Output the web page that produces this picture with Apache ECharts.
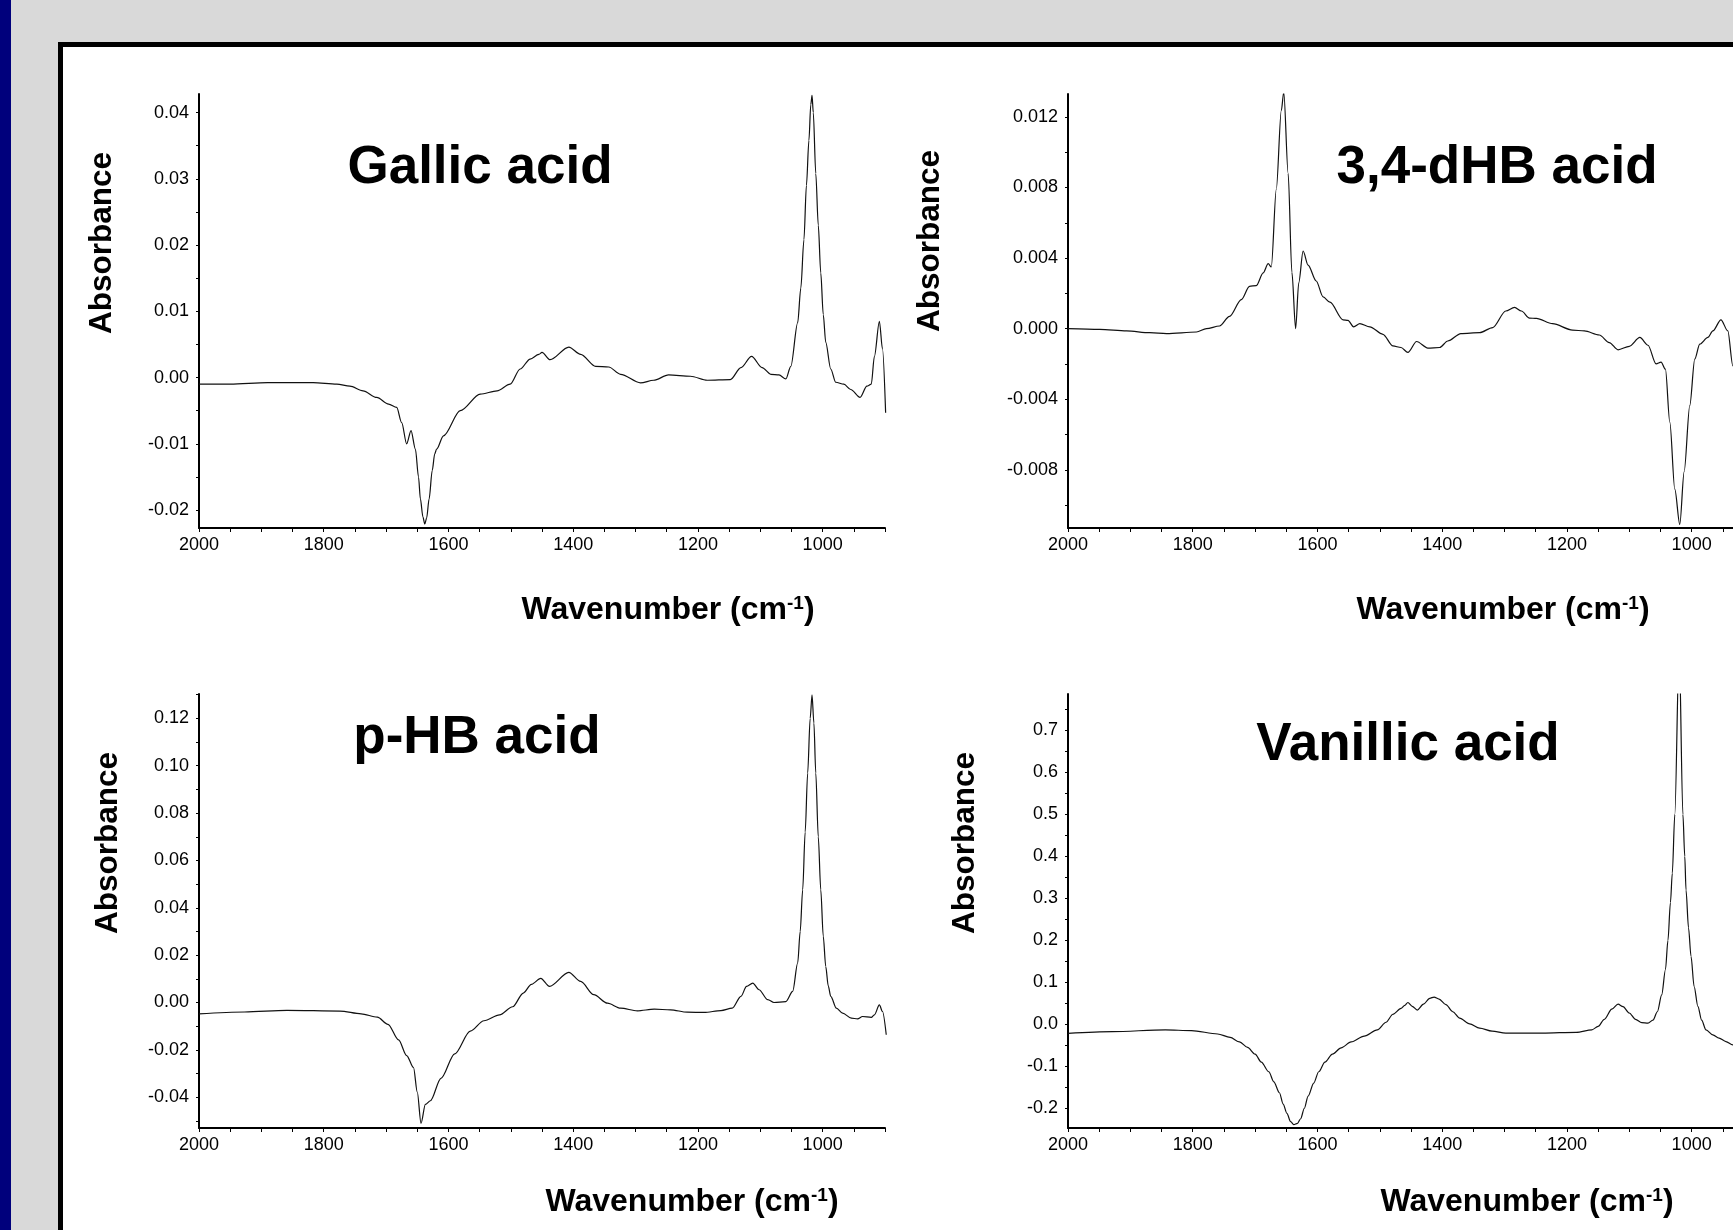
<!DOCTYPE html>
<html>
<head>
<meta charset="utf-8">
<title>IR spectra</title>
<script src="https://cdn.jsdelivr.net/npm/echarts@6.0.0/dist/echarts.min.js"></script>
<style>
  html, body { margin: 0; padding: 0; overflow: hidden; }
  body { width: 1733px; height: 1230px; background: #d9d9d9; position: relative; }
  #strip { position: absolute; left: 0; top: 0; width: 11px; height: 1230px; background: #00007c; }
  #panel { position: absolute; left: 58px; top: 42px; width: 2000px; height: 2000px; background: #fff; border: 5px solid #000; }
  #main { position: absolute; left: 0; top: 0; width: 1760px; height: 1230px; }
</style>
</head>
<body>
<div id="strip"></div>
<div id="panel"></div>
<div id="main"></div>
<script>
// wavenumber tick labels (cm-1)
const xLabels = [2000, 1800, 1600, 1400, 1200, 1000]

// Gallic acid
const gallicWn = [2000, 1950, 1890, 1817, 1779, 1758, 1737, 1715, 1696, 1683, 1675, 1667, 1660, 1653, 1648, 1645, 1641, 1638, 1635, 1631, 1626, 1622, 1619, 1608, 1581, 1549, 1522, 1501, 1485, 1469, 1455, 1450, 1437, 1407, 1388, 1364, 1343, 1324, 1292, 1271, 1247, 1212, 1185, 1148, 1131, 1114, 1097, 1083, 1070, 1059, 1051, 1040, 1035, 1030, 1026, 1022, 1019, 1017, 1015, 1011, 1007, 1003, 999, 995, 987, 979, 966, 955, 940, 929, 922, 917, 909, 904, 899]
const gallicAbs = [-0.0010, -0.0010, -0.00075, -0.00075, -0.0010, -0.0013, -0.0020, -0.0030, -0.0040, -0.0045, -0.0068, -0.0100, -0.0080, -0.0108, -0.0150, -0.0183, -0.0210, -0.0221, -0.0212, -0.0183, -0.0140, -0.0115, -0.0108, -0.0088, -0.0050, -0.0025, -0.0020, -0.0010, 0.0013, 0.0028, 0.0035, 0.0038, 0.0027, 0.0046, 0.0035, 0.0017, 0.0016, 0.0005, -0.0008, -0.0004, 0.0004, 0.0002, -0.0004, -0.0003, 0.0015, 0.0032, 0.0015, 0.0005, 0.0004, -0.0002, 0.0017, 0.0083, 0.0135, 0.0208, 0.0290, 0.0358, 0.0412, 0.0426, 0.0400, 0.0308, 0.0230, 0.0158, 0.0095, 0.0053, 0.0013, -0.0007, -0.0010, -0.0018, -0.0030, -0.0013, -0.0010, 0.0032, 0.0085, 0.0043, -0.0053]

// 3,4-dHB acid
const dhbWn = [2000, 1949, 1906, 1869, 1842, 1794, 1778, 1757, 1741, 1722, 1709, 1698, 1687, 1679, 1674, 1666, 1658, 1654, 1647, 1641, 1635, 1630, 1623, 1615, 1602, 1591, 1580, 1559, 1551, 1542, 1532, 1516, 1495, 1479, 1466, 1455, 1441, 1423, 1404, 1391, 1370, 1340, 1319, 1298, 1284, 1273, 1260, 1249, 1223, 1191, 1172, 1148, 1132, 1118, 1100, 1083, 1070, 1057, 1049, 1042, 1035, 1027, 1019, 1012, 1003, 995, 987, 974, 966, 953, 942, 934, 928]
const dhbAbs = [0.0000, -0.00004, -0.00013, -0.00023, -0.00028, -0.00019, 0.0000, 0.00015, 0.0007, 0.00165, 0.0024, 0.00244, 0.00316, 0.00368, 0.0035, 0.0079, 0.01236, 0.0134, 0.0088, 0.0032, 0.0000, 0.0026, 0.0044, 0.0036, 0.0027, 0.0018, 0.0015, 0.0005, 0.00047, 0.0001, 0.00028, 0.0001, -0.00032, -0.00098, -0.00107, -0.00135, -0.00073, -0.0011, -0.00107, -0.0007, -0.00028, -0.00023, 0.00006, 0.0010, 0.0012, 0.0010, 0.0006, 0.00058, 0.00028, -0.00008, -0.00013, -0.00036, -0.00079, -0.0012, -0.0010, -0.0005, -0.00094, -0.0020, -0.0019, -0.0023, -0.0053, -0.0091, -0.0111, -0.0081, -0.00436, -0.00173, -0.00088, -0.0005, -0.00013, 0.0005, -0.00013, -0.0021, -0.0035]

// p-HB acid
const phbWn = [2000, 1927, 1859, 1774, 1740, 1714, 1697, 1680, 1667, 1656, 1650, 1644, 1637, 1629, 1612, 1590, 1565, 1543, 1518, 1497, 1480, 1467, 1452, 1438, 1407, 1388, 1367, 1345, 1324, 1297, 1270, 1244, 1217, 1190, 1163, 1145, 1131, 1122, 1112, 1102, 1088, 1078, 1059, 1048, 1040, 1036, 1032, 1028, 1024, 1020, 1017, 1014, 1011, 1007, 1003, 999, 995, 991, 987, 978, 968, 954, 944, 936, 922, 917, 909, 904, 898]
const phbAbs = [-0.0048, -0.0040, -0.0033, -0.0036, -0.0048, -0.0062, -0.0092, -0.0158, -0.0224, -0.0275, -0.0378, -0.0510, -0.0430, -0.0415, -0.0320, -0.0217, -0.0121, -0.0077, -0.0052, -0.0018, 0.0040, 0.0077, 0.0102, 0.0068, 0.0127, 0.0089, 0.0033, -0.0003, -0.0024, -0.0035, -0.0028, -0.0031, -0.0041, -0.0042, -0.0034, -0.0024, 0.0026, 0.0068, 0.0082, 0.0054, 0.0012, 0.0000, 0.0004, 0.0047, 0.0167, 0.0300, 0.0476, 0.0720, 0.0969, 0.1200, 0.1299, 0.1180, 0.0969, 0.0700, 0.0476, 0.0280, 0.0152, 0.0070, 0.0026, -0.0024, -0.0045, -0.0066, -0.0069, -0.0059, -0.0063, -0.0052, -0.0010, -0.0038, -0.0136]

// Vanillic acid
const vanWn = [2000, 1929, 1844, 1802, 1760, 1740, 1725, 1712, 1700, 1690, 1678, 1670, 1661, 1655, 1649, 1643, 1638, 1632, 1627, 1621, 1615, 1606, 1598, 1588, 1576, 1562, 1546, 1525, 1504, 1490, 1479, 1466, 1460, 1455, 1448, 1440, 1430, 1420, 1413, 1405, 1394, 1383, 1372, 1356, 1340, 1320, 1298, 1239, 1185, 1160, 1150, 1140, 1128, 1118, 1110, 1100, 1090, 1080, 1070, 1062, 1055, 1048, 1042, 1038, 1034, 1031, 1027, 1020, 1014, 1011, 1009, 1005, 1001, 996, 990, 984, 977, 966, 956, 945, 934, 910]
const vanAbs = [-0.0216, -0.0174, -0.0133, -0.0149, -0.023, -0.031, -0.042, -0.055, -0.071, -0.090, -0.113, -0.137, -0.163, -0.190, -0.212, -0.232, -0.239, -0.236, -0.225, -0.200, -0.171, -0.140, -0.113, -0.090, -0.071, -0.056, -0.042, -0.028, -0.013, 0.005, 0.024, 0.038, 0.045, 0.052, 0.043, 0.034, 0.048, 0.062, 0.065, 0.060, 0.047, 0.030, 0.0148, 0.001, -0.009, -0.016, -0.021, -0.021, -0.019, -0.013, -0.005, 0.012, 0.036, 0.048, 0.042, 0.027, 0.012, 0.004, 0.0027, 0.010, 0.030, 0.070, 0.130, 0.200, 0.290, 0.360, 0.500, 0.900, 0.500, 0.400, 0.320, 0.230, 0.162, 0.090, 0.043, 0.010, -0.013, -0.025, -0.033, -0.041, -0.049, -0.065]

function steps (from, to, step) {
  let out = []
  for (let v = from; v <= to + step / 2; v += step) out.push(v)
  return out
}

const panels = [
  { title: 'Gallic acid', wn: gallicWn, abs: gallicAbs, yMin: -0.0227, yMax: 0.0428,
    yLabels: [-0.02, -0.01, 0.00, 0.01, 0.02, 0.03, 0.04], yTicks: steps(-0.02, 0.04, 0.005), digits: 2,
    left: 199, top: 94, titlePos: [480, 168], yNamePos: [102, 243], xNamePos: [668, 610] },
  { title: '3,4-dHB acid', wn: dhbWn, abs: dhbAbs, yMin: -0.0113, yMax: 0.0133,
    yLabels: [-0.008, -0.004, 0.000, 0.004, 0.008, 0.012], yTicks: steps(-0.010, 0.012, 0.002), digits: 3,
    left: 1068, top: 94, titlePos: [1497, 168], yNamePos: [930, 241], xNamePos: [1503, 610] },
  { title: 'p-HB acid', wn: phbWn, abs: phbAbs, yMin: -0.053, yMax: 0.1303,
    yLabels: [-0.04, -0.02, 0.00, 0.02, 0.04, 0.06, 0.08, 0.10, 0.12], yTicks: steps(-0.05, 0.13, 0.01), digits: 2,
    left: 199, top: 694, titlePos: [477, 738], yNamePos: [108, 843], xNamePos: [692, 1202] },
  { title: 'Vanillic acid', wn: vanWn, abs: vanAbs, yMin: -0.247, yMax: 0.787,
    yLabels: [-0.2, -0.1, 0.0, 0.1, 0.2, 0.3, 0.4, 0.5, 0.6, 0.7], yTicks: steps(-0.2, 0.75, 0.05), digits: 1,
    left: 1068, top: 694, titlePos: [1408, 745], yNamePos: [965, 843], xNamePos: [1527, 1202] }
]

const tickFont = 'Liberation Sans'
const grid = [], xAxis = [], yAxis = [], series = [], graphic = []

panels.forEach((p, i) => {
  grid.push({ left: p.left, top: p.top, width: 686, height: 434 })
  xAxis.push({
    gridIndex: i, type: 'value', inverse: true, min: 900, max: 2000,
    axisLine: { onZero: false, lineStyle: { color: '#000', width: 2 } },
    axisTick: { show: true, customValues: steps(900, 2000, 50), length: 4, lineStyle: { color: '#000', width: 1 } },
    axisLabel: { customValues: xLabels, margin: 8, color: '#000', fontSize: 18, fontFamily: tickFont,
      formatter: v => String(Math.round(v)) },
    splitLine: { show: false }
  })
  yAxis.push({
    gridIndex: i, type: 'value', min: p.yMin, max: p.yMax,
    axisLine: { show: true, onZero: false, lineStyle: { color: '#000', width: 2 } },
    axisTick: { show: true, customValues: p.yTicks, length: 3, lineStyle: { color: '#000', width: 1 } },
    axisLabel: { customValues: p.yLabels, margin: 10, color: '#000', fontSize: 18, fontFamily: tickFont,
      formatter: v => Number(v).toFixed(p.digits) },
    splitLine: { show: false }
  })
  series.push({
    type: 'line', xAxisIndex: i, yAxisIndex: i,
    data: p.wn.map((w, k) => [w, p.abs[k]]),
    showSymbol: false, smooth: 0.3, smoothMonotone: 'x', clip: true,
    lineStyle: { color: '#111', width: 1.2 }
  })
  graphic.push({
    type: 'text', x: p.titlePos[0], y: p.titlePos[1],
    style: { text: p.title, font: 'bold 53px "Liberation Sans"', fill: '#000',
      align: 'center', verticalAlign: 'middle', textAlign: 'center', textVerticalAlign: 'middle' }
  })
  graphic.push({
    type: 'text', x: p.yNamePos[0], y: p.yNamePos[1], rotation: Math.PI / 2,
    style: { text: 'Absorbance', font: 'bold 31.5px "Liberation Sans"', fill: '#000',
      align: 'center', verticalAlign: 'middle', textAlign: 'center', textVerticalAlign: 'middle' }
  })
  graphic.push({
    type: 'text', x: p.xNamePos[0], y: p.xNamePos[1],
    style: {
      text: '{a|Wavenumber (cm}{s|-1}{a|)}', fill: '#000',
      align: 'center', verticalAlign: 'middle', textAlign: 'center', textVerticalAlign: 'middle',
      rich: {
        a: { font: 'bold 32px "Liberation Sans"', fill: '#000' },
        s: { font: 'bold 19px "Liberation Sans"', fill: '#000', verticalAlign: 'top' }
      }
    }
  })
})

let myChart = echarts.init(document.getElementById('main'), null, { renderer: 'canvas' })
myChart.setOption({
  animation: false,
  backgroundColor: 'transparent',
  grid, xAxis, yAxis, series, graphic
})
</script>
</body>
</html>
